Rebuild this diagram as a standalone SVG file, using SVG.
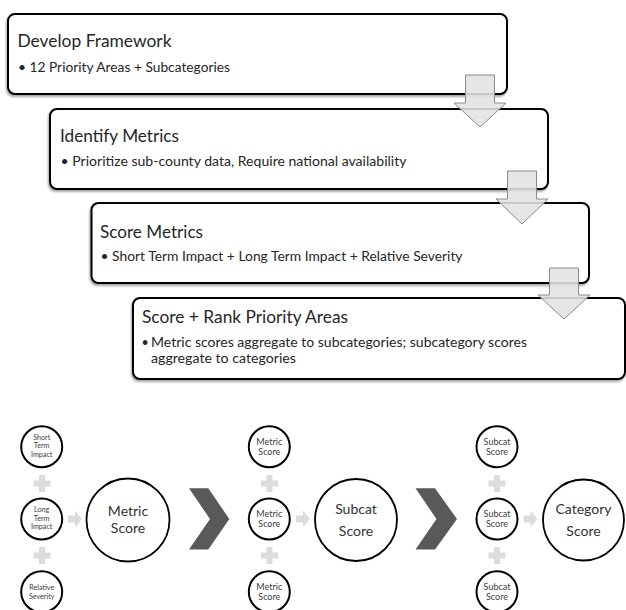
<svg xmlns="http://www.w3.org/2000/svg" width="626" height="610" viewBox="0 0 626 610">
<defs>
<filter id="sh" x="-5%" y="-10%" width="110%" height="130%">
<feDropShadow dx="-1" dy="2" stdDeviation="1.2" flood-color="#000" flood-opacity="0.35"/>
</filter>
<style>
.box{fill:#fff;stroke:#000;stroke-width:2;filter:url(#sh)}
.dn{fill:#e3e3e3;fill-opacity:0.88;stroke:#8a8a8a;stroke-width:1}
.t{font-family:Lato,"Liberation Sans",sans-serif;fill:#262626}
.ti{font-size:17px}
.bu{font-size:12.5px}
.sc{fill:#fff;stroke:#000;stroke-width:2}
.bc{fill:#fff;stroke:#000;stroke-width:1.8}
.s3{font-size:7.2px;text-anchor:middle;fill:#404040}
.s2{font-size:9px;text-anchor:middle;fill:#404040}
.bt{font-size:14px;text-anchor:middle;fill:#333}
.pl{fill:#dcdcdc}
.ch{fill:#595959}
</style>
</defs>
<rect width="626" height="610" fill="#fff"/>

<g id="step1">
<rect class="box" x="8" y="14" width="499" height="80" rx="7"/>
<text class="t ti" x="17.5" y="47" textLength="154" lengthAdjust="spacingAndGlyphs">Develop Framework</text>
<text class="t bu" x="18" y="72" textLength="212" lengthAdjust="spacingAndGlyphs">• 12 Priority Areas + Subcategories</text>
</g>
<g id="step2">
<rect class="box" x="50" y="109" width="498" height="80" rx="7"/>
<text class="t ti" x="60" y="142" textLength="119" lengthAdjust="spacingAndGlyphs">Identify Metrics</text>
<text class="t bu" x="60.5" y="165.5" textLength="346" lengthAdjust="spacingAndGlyphs">• Prioritize sub-county data, Require national availability</text>
</g>
<g id="step3">
<rect class="box" x="91.5" y="203" width="497.5" height="80" rx="7"/>
<text class="t ti" x="100" y="237.5" textLength="103" lengthAdjust="spacingAndGlyphs">Score Metrics</text>
<text class="t bu" x="100.5" y="261" textLength="362" lengthAdjust="spacingAndGlyphs">• Short Term Impact + Long Term Impact + Relative Severity</text>
</g>
<g id="step4">
<rect class="box" x="133" y="298" width="492" height="81" rx="7"/>
<text class="t ti" x="142" y="323" textLength="206" lengthAdjust="spacingAndGlyphs">Score + Rank Priority Areas</text>
<text class="t bu" x="141.5" y="346.5">•</text>
<text class="t bu" x="151" y="346.5" textLength="376" lengthAdjust="spacingAndGlyphs">Metric scores aggregate to subcategories; subcategory scores</text>
<text class="t bu" x="151" y="362.5" textLength="145" lengthAdjust="spacingAndGlyphs">aggregate to categories</text>
</g>

<g id="connectors">
<path class="dn" d="M465.5,75 H494.5 V103 H506 L480,127 L454,103 H465.5 Z"/>
<path class="dn" d="M507.5,171 H536.5 V199 H548 L522,224 L496,199 H507.5 Z"/>
<path class="dn" d="M549.5,268 H578.5 V295 H590 L564,319 L538,295 H549.5 Z"/>

<path class="pl" d="M39,475 h6 v5.5 h5.5 v6 h-5.5 v5.5 h-6 v-5.5 h-5.5 v-6 h5.5 Z"/>
<path class="pl" d="M39,547 h6 v5.5 h5.5 v6 h-5.5 v5.5 h-6 v-5.5 h-5.5 v-6 h5.5 Z"/>
<path class="pl" d="M266.5,475 h6 v5.5 h5.5 v6 h-5.5 v5.5 h-6 v-5.5 h-5.5 v-6 h5.5 Z"/>
<path class="pl" d="M266.5,547 h6 v5.5 h5.5 v6 h-5.5 v5.5 h-6 v-5.5 h-5.5 v-6 h5.5 Z"/>
<path class="pl" d="M494,475 h6 v5.5 h5.5 v6 h-5.5 v5.5 h-6 v-5.5 h-5.5 v-6 h5.5 Z"/>
<path class="pl" d="M494,547 h6 v5.5 h5.5 v6 h-5.5 v5.5 h-6 v-5.5 h-5.5 v-6 h5.5 Z"/>

<path class="pl" d="M68,515.5 h7 v-5 l7,8.5 l-7,8.5 v-5 h-7 Z"/>
<path class="pl" d="M296,515.5 h7 v-5 l7,8.5 l-7,8.5 v-5 h-7 Z"/>
<path class="pl" d="M523.5,515.5 h7 v-5 l7,8.5 l-7,8.5 v-5 h-7 Z"/>

<path class="ch" d="M189,488.3 H208.3 L229.3,519 L208.3,549.5 H189 L210,519 Z"/>
<path class="ch" d="M415.5,488.3 H435 L457,519 L435,549.5 H415.5 L436.5,519 Z"/>
</g>

<g id="c1a"><circle class="sc" cx="41.7" cy="446.7" r="20.5"/>
<text class="t s3" x="41.7" y="439.7">Short</text><text class="t s3" x="41.7" y="448.4">Term</text><text class="t s3" x="41.7" y="457.1">Impact</text></g>
<g id="c1b"><circle class="sc" cx="41.7" cy="519" r="20.5"/>
<text class="t s3" x="41.7" y="512">Long</text><text class="t s3" x="41.7" y="520.7">Term</text><text class="t s3" x="41.7" y="529.4">Impact</text></g>
<g id="c1c"><circle class="sc" cx="41.7" cy="591.7" r="20.5"/>
<text class="t s3" x="41.7" y="589.8">Relative</text><text class="t s3" x="41.7" y="598.6">Severity</text></g>
<g id="metric"><circle class="bc" cx="128" cy="520" r="41.5"/>
<text class="t bt" x="128" y="515.5">Metric</text><text class="t bt" x="128" y="532.5">Score</text></g>

<g id="c2a"><circle class="sc" cx="269.3" cy="446.7" r="20.5"/>
<text class="t s2" x="269.3" y="445">Metric</text><text class="t s2" x="269.3" y="455">Score</text></g>
<g id="c2b"><circle class="sc" cx="269.3" cy="519" r="20.5"/>
<text class="t s2" x="269.3" y="517.3">Metric</text><text class="t s2" x="269.3" y="527.3">Score</text></g>
<g id="c2c"><circle class="sc" cx="269.3" cy="591.7" r="20.5"/>
<text class="t s2" x="269.3" y="590">Metric</text><text class="t s2" x="269.3" y="600">Score</text></g>
<g id="subcat"><circle class="bc" cx="356" cy="520" r="41"/>
<text class="t bt" x="356" y="513.5">Subcat</text><text class="t bt" x="356" y="535.5">Score</text></g>

<g id="c3a"><circle class="sc" cx="497" cy="446.7" r="20.5"/>
<text class="t s2" x="497" y="445">Subcat</text><text class="t s2" x="497" y="455">Score</text></g>
<g id="c3b"><circle class="sc" cx="497" cy="519" r="20.5"/>
<text class="t s2" x="497" y="517.3">Subcat</text><text class="t s2" x="497" y="527.3">Score</text></g>
<g id="c3c"><circle class="sc" cx="497" cy="591.7" r="20.5"/>
<text class="t s2" x="497" y="590">Subcat</text><text class="t s2" x="497" y="600">Score</text></g>
<g id="category"><circle class="bc" cx="583.5" cy="520" r="40.5"/>
<text class="t bt" x="583.5" y="514">Category</text><text class="t bt" x="583.5" y="536">Score</text></g>
</svg>
